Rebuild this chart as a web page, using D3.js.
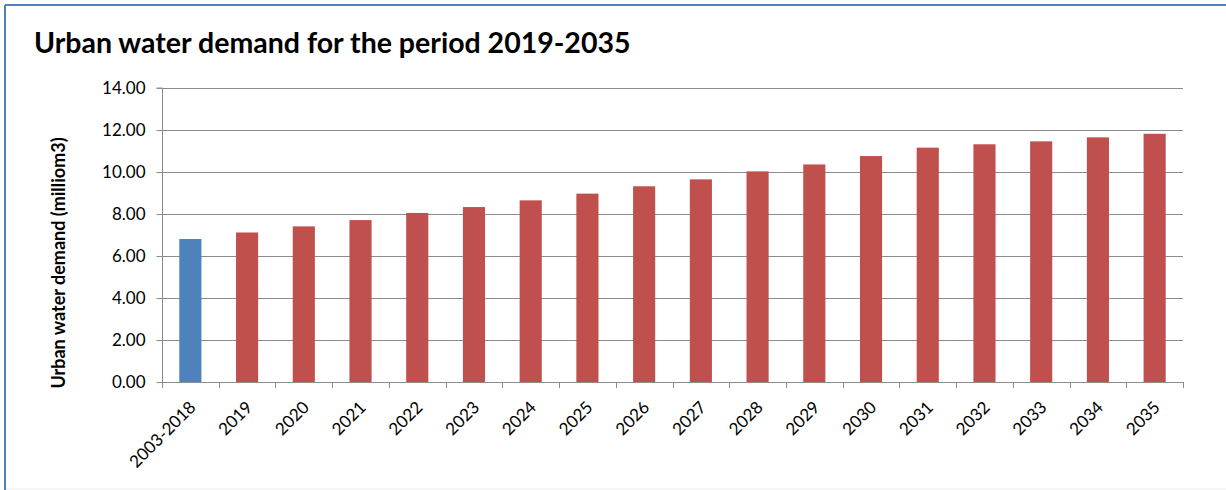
<!DOCTYPE html>
<html>
<head>
<meta charset="utf-8">
<script src="https://cdn.jsdelivr.net/npm/d3@7"></script>
<style>
  html, body { margin: 0; padding: 0; background: #fff; }
  svg { display: block; }
</style>
</head>
<body>
<svg id="chart" width="1226" height="490"></svg>
<script>
// Urban water demand, million m3: historical average then yearly projection
const categories = ["2003-2018", "2019", "2020", "2021", "2022", "2023", "2024", "2025", "2026",
  "2027", "2028", "2029", "2030", "2031", "2032", "2033", "2034", "2035"];
const demand = [6.81, 7.12, 7.41, 7.71, 8.05, 8.33, 8.65, 8.97, 9.32,
  9.65, 10.03, 10.36, 10.76, 11.16, 11.32, 11.46, 11.65, 11.82];
const yTicks = [0, 2, 4, 6, 8, 10, 12, 14];
const titleText = "Urban water demand for the period 2019-2035";
const yLabel = "Urban water demand (milliom3)";

const font = "Lato, 'Open Sans', sans-serif";
const svg = d3.select("#chart");
const W = 1226, H = 490;
const plot = { left: 162, right: 1183, top: 88, bottom: 382 };

// frame
svg.append("line").attr("x1", 5).attr("x2", W).attr("y1", 5).attr("y2", 5)
  .attr("stroke", "#4f81bd").attr("stroke-width", 2);
svg.append("line").attr("x1", 5).attr("x2", 5).attr("y1", 5).attr("y2", H)
  .attr("stroke", "#4f81bd").attr("stroke-width", 2);
svg.append("line").attr("x1", 6).attr("x2", W).attr("y1", 489).attr("y2", 489)
  .attr("stroke", "#ececec").attr("stroke-width", 1);

const x = d3.scaleBand().domain(categories).range([plot.left, plot.right])
  .paddingInner(0.61).paddingOuter(0.305);
const y = d3.scaleLinear().domain([0, 14]).range([plot.bottom, plot.top]);

// horizontal gridlines
svg.append("g").selectAll("line").data(yTicks.filter(d => d > 0)).join("line")
  .attr("x1", plot.left).attr("x2", plot.right)
  .attr("y1", d => Math.round(y(d)) + 0.5).attr("y2", d => Math.round(y(d)) + 0.5)
  .attr("stroke", "#8c8c8c").attr("stroke-width", 1);

// bars
svg.append("g").selectAll("rect").data(demand).join("rect")
  .attr("x", (d, i) => x(categories[i]))
  .attr("width", x.bandwidth())
  .attr("y", d => y(d))
  .attr("height", d => y(0) - y(d))
  .attr("fill", (d, i) => i === 0 ? "#4f81bd" : "#c0504d");

// y axis
const yAxis = d3.axisLeft(y).tickValues(yTicks).tickFormat(d3.format(".2f")).tickSize(6).tickPadding(11);
const gy = svg.append("g").attr("transform", `translate(${plot.left + 0.5},0)`).call(yAxis);
gy.select(".domain").attr("stroke", "#8c8c8c").attr("d", `M-6,${y(14)}H0V${y(0)}`);
gy.selectAll(".tick line").attr("stroke", "#8c8c8c");
gy.selectAll(".tick text").attr("font-family", font).attr("font-size", 17).attr("fill", "#000");

// x axis with ticks at category boundaries
const bounds = d3.range(categories.length + 1).map(i => plot.left + i * (plot.right - plot.left) / categories.length);
const gx = svg.append("g");
gx.append("line").attr("x1", plot.left).attr("x2", plot.right)
  .attr("y1", plot.bottom + 0.5).attr("y2", plot.bottom + 0.5).attr("stroke", "#8c8c8c");
gx.selectAll("line.tk").data(bounds).join("line").attr("class", "tk")
  .attr("x1", d => Math.round(d) + 0.5).attr("x2", d => Math.round(d) + 0.5)
  .attr("y1", plot.bottom).attr("y2", plot.bottom + 6).attr("stroke", "#8c8c8c");
gx.selectAll("text").data(categories).join("text")
  .attr("transform", d => `translate(${x(d) + x.bandwidth() / 2 - 2},${plot.bottom + 18}) rotate(-45)`)
  .attr("text-anchor", "end").attr("dy", "0.7em")
  .attr("font-family", font).attr("font-size", 17).attr("fill", "#000")
  .text(d => d);

// title
svg.append("text").attr("x", 34).attr("y", 53)
  .attr("font-family", font).attr("font-weight", "bold").attr("font-size", 28.5).attr("fill", "#000")
  .text(titleText);

// y axis label
svg.append("text").attr("transform", `translate(65,263) rotate(-90)`)
  .attr("text-anchor", "middle")
  .attr("font-family", font).attr("font-weight", "bold").attr("font-size", 18).attr("fill", "#000")
  .text(yLabel);
</script>
</body>
</html>
